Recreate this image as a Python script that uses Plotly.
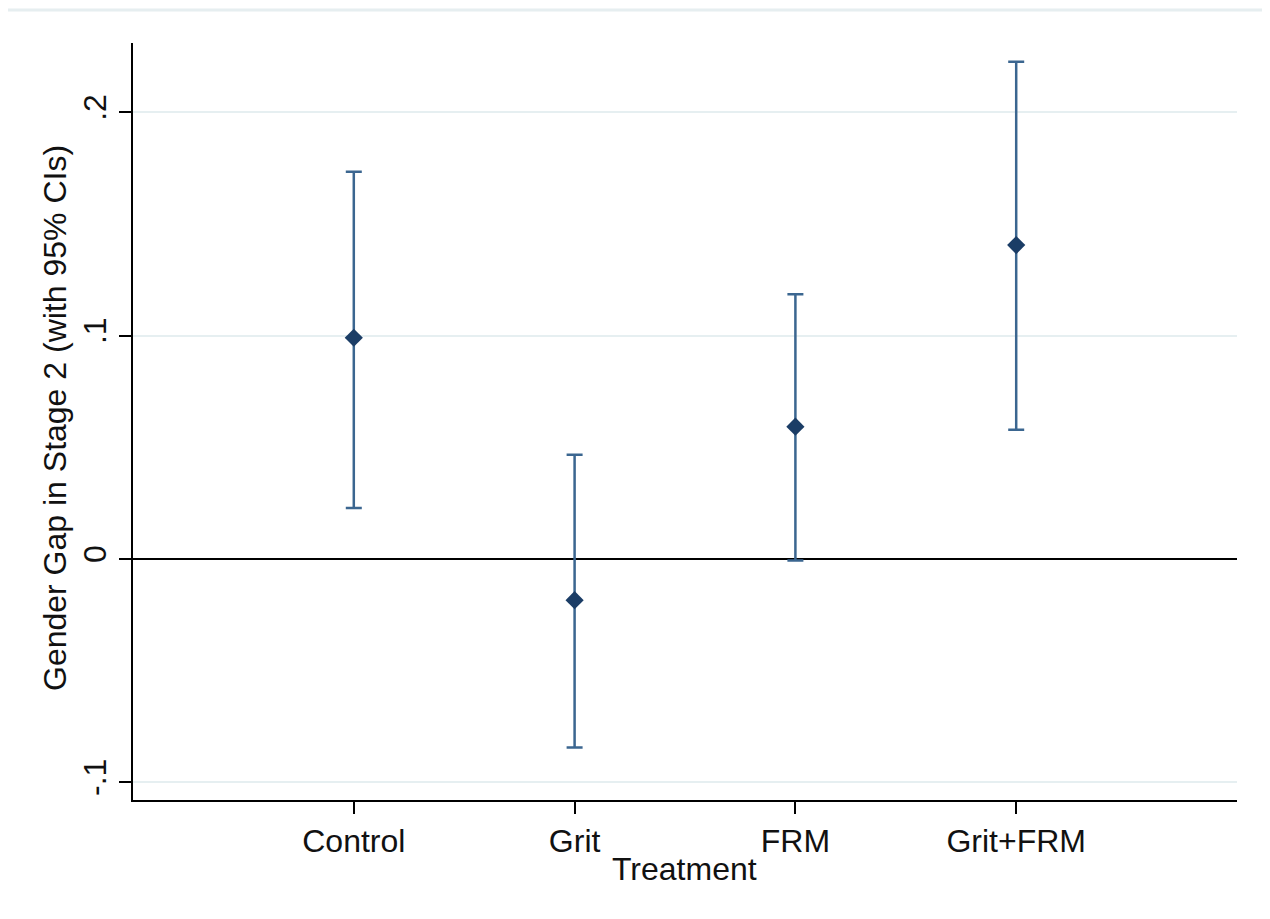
import plotly.graph_objects as go

treatments = ["Control", "Grit", "FRM", "Grit+FRM"]
positions = [1, 2, 3, 4]
gap = [0.099, -0.0185, 0.0592, 0.1405]
ci_low = [0.0228, -0.0845, -0.0008, 0.0578]
ci_high = [0.1733, 0.0466, 0.1185, 0.2226]

err_plus = [h - g for h, g in zip(ci_high, gap)]
err_minus = [g - l for g, l in zip(gap, ci_low)]

FONT = "Liberation Sans, Arial, sans-serif"
FS = 32

# page has an 8px body margin; plot area targeted at page x 133..1237, y 43..800
W, H = 1262, 911
ML, MR, MT, MB = 125, 33, 35, 119
PW, PH = W - ML - MR, H - MT - MB
PL, PB = 8 + ML, 8 + H - MB  # page coords of plot left / bottom


def px(xp):
    return (xp - PL) / PW


def py(yp):
    return (PB - yp) / PH


fig = go.Figure()
fig.add_trace(go.Scatter(
    x=positions, y=gap, mode="markers",
    marker=dict(symbol="diamond", size=14, color="#1b3d66"),
    error_y=dict(type="data", symmetric=False, array=err_plus, arrayminus=err_minus,
                 color="#3b6690", thickness=2.5, width=8),
    showlegend=False, hoverinfo="skip",
))

fig.update_layout(
    width=W, height=H,
    margin=dict(l=ML, r=MR, t=MT, b=MB),
    paper_bgcolor="white", plot_bgcolor="white",
    font=dict(family=FONT, size=FS, color="#111111"),
    xaxis=dict(
        range=[0, 5], tickvals=positions, ticktext=treatments,
        showgrid=False, zeroline=False,
        showline=True, linecolor="black", linewidth=2,
        ticks="outside", ticklen=12, tickwidth=2, tickcolor="black",
        tickfont=dict(size=FS, family=FONT),
    ),
    yaxis=dict(
        range=[-0.108, 0.231], tickvals=[-0.1, 0, 0.1, 0.2],
        ticktext=["-.1", "0", ".1", ".2"], tickangle=-90,
        showgrid=True, gridcolor="#e6eff1", gridwidth=2,
        zeroline=True, zerolinecolor="black", zerolinewidth=2,
        showline=True, linecolor="black", linewidth=2,
        ticks="outside", ticklen=12, tickwidth=2, tickcolor="black",
        tickfont=dict(size=FS, family=FONT),
    ),
    annotations=[
        dict(text="Gender Gap in Stage 2 (with 95% CIs)", x=px(55), y=py(418),
             xref="paper", yref="paper", xanchor="center", yanchor="middle",
             showarrow=False, textangle=-90, font=dict(size=FS, family=FONT)),
        dict(text="Treatment", x=px(684), y=py(869), xref="paper", yref="paper",
             xanchor="center", yanchor="middle",
             showarrow=False, font=dict(size=FS, family=FONT)),
    ],
    shapes=[
        dict(type="line", xref="paper", yref="paper", x0=px(8), x1=px(1270),
             y0=py(10), y1=py(10), line=dict(color="#e6eef0", width=3)),
    ],
)

fig.write_html("out.html")
